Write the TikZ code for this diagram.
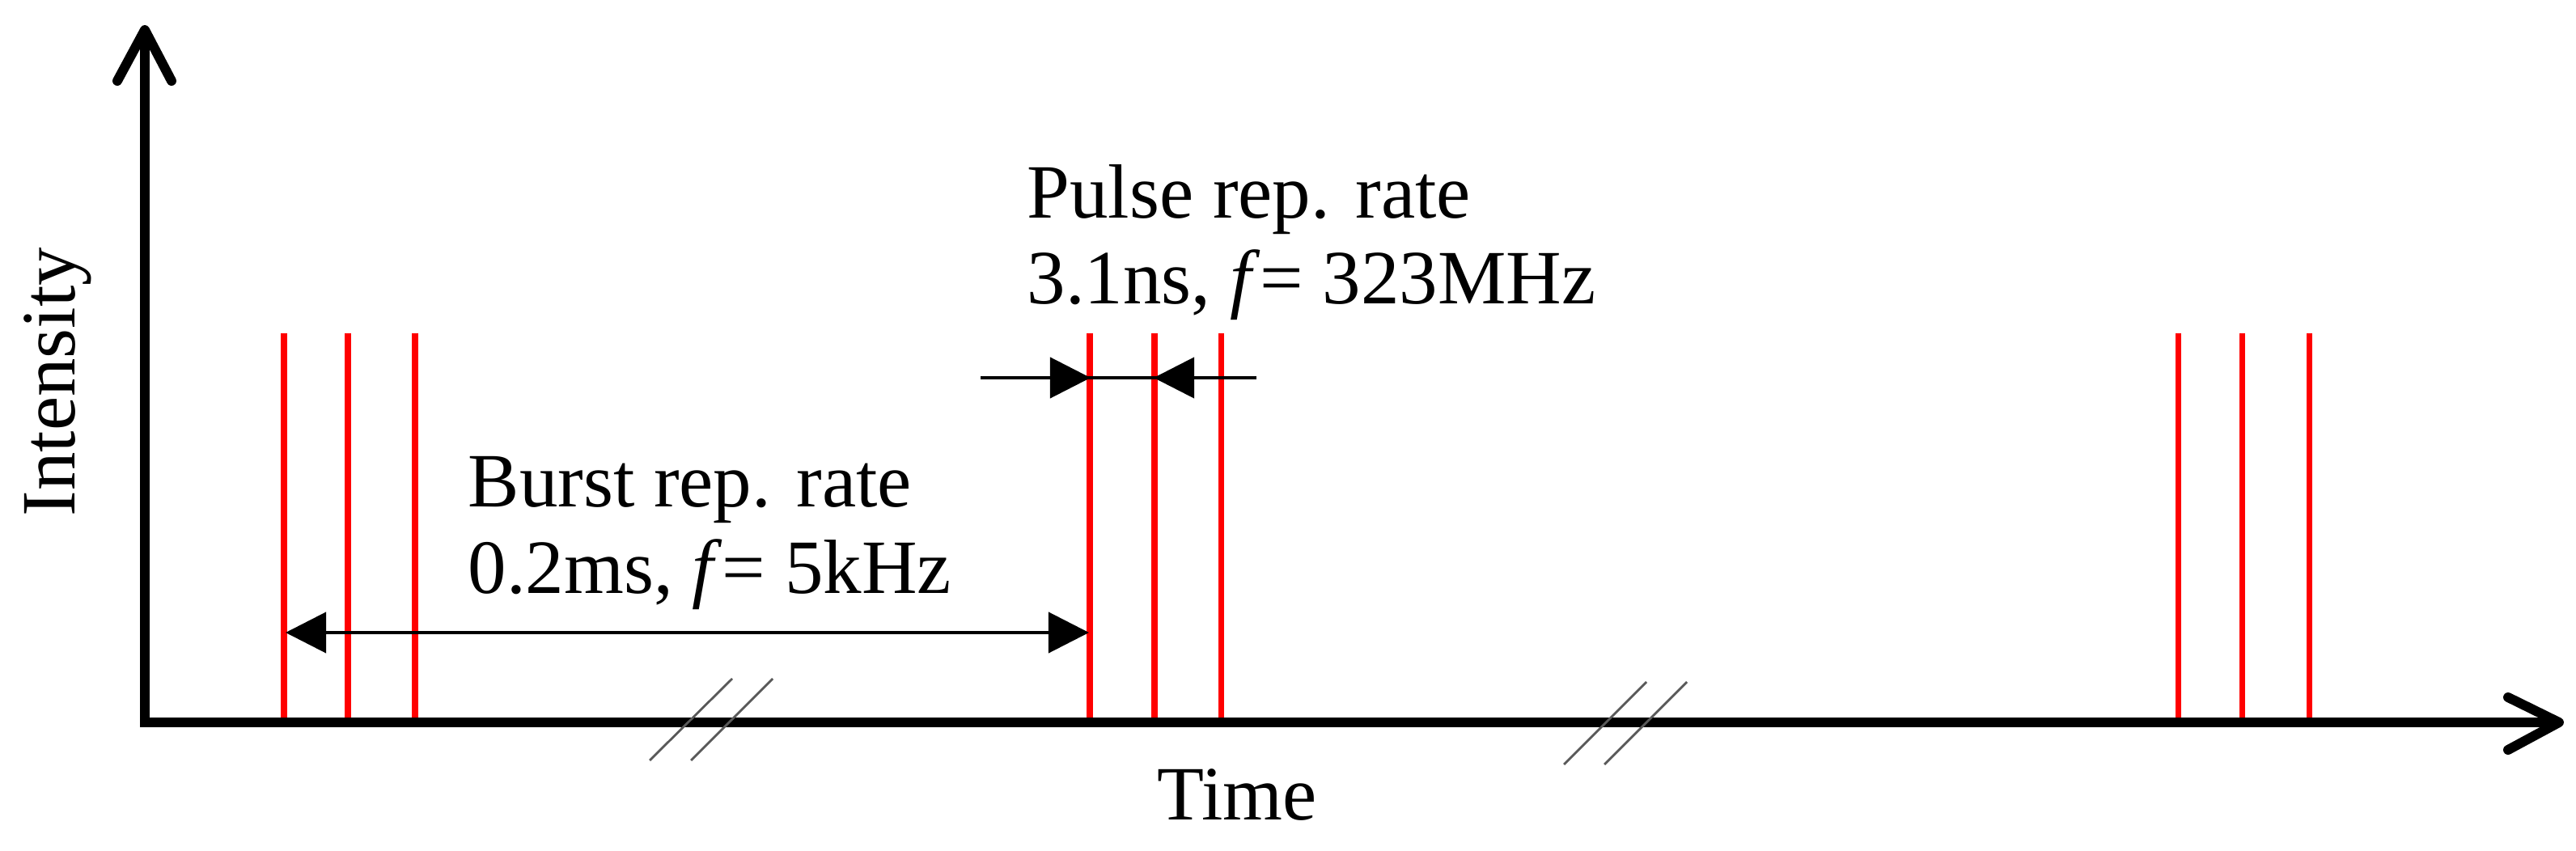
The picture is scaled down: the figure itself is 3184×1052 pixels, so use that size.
\documentclass[tikz,border=0pt]{standalone}
\usepackage{fontspec}
\setmainfont{Liberation Serif}
\usetikzlibrary{arrows.meta}
\begin{document}
\begin{tikzpicture}[x=0.01cm,y=-0.01cm,
  axisline/.style={line width=3.4pt,black,line join=miter},
  barb/.style={line width=3.4pt,black,line cap=round,line join=round},
  pulseline/.style={line width=2pt,red},
  dimline/.style={line width=1.15pt,black},
  dimtip/.style={line width=1.15pt,black,-{Triangle[length=0.5cm,width=0.5cm]}},
  breakmark/.style={line width=0.8pt,black!65},
  lbl/.style={inner sep=0pt,font=\fontsize{27}{30.2}\selectfont,align=left}]
\useasboundingbox (0,0) rectangle (3184,1052);
% coordinates
\coordinate (O) at (179,893);
\coordinate (ytip) at (179,37);
\coordinate (xtip) at (3163,893);
% pulses
\foreach \n/\x in {a1/351,a2/430,a3/513,b1/1347,b2/1427,b3/1509,c1/2692,c2/2771,c3/2854}{
  \coordinate (\n top) at (\x,412);
  \coordinate (\n bot) at (\x,893);
  \draw[pulseline] (\n top) -- (\n bot);
}
% axes
\draw[axisline] (xtip) -- (O) -- (ytip);
\draw[barb] (145,100) -- (ytip) -- (212,100);
\draw[barb] (3100,862) -- (xtip) -- (3100,927);
% break marks
\coordinate (k1a) at (803,940); \coordinate (k1b) at (905,839);
\coordinate (k2a) at (854,940); \coordinate (k2b) at (955,839);
\coordinate (k3a) at (1933,945); \coordinate (k3b) at (2035,843);
\coordinate (k4a) at (1983,945); \coordinate (k4b) at (2085,843);
\draw[breakmark] (k1a) -- (k1b);
\draw[breakmark] (k2a) -- (k2b);
\draw[breakmark] (k3a) -- (k3b);
\draw[breakmark] (k4a) -- (k4b);
% burst dimension
\coordinate (bl) at (353,782);
\coordinate (br) at (1346,782);
\draw[dimline,{Triangle[length=0.5cm,width=0.5cm]}-{Triangle[length=0.5cm,width=0.5cm]}] (bl) -- (br);
% pulse dimension
\coordinate (pl) at (1212,467);
\coordinate (pr) at (1553,467);
\coordinate (p1) at (1348,467);
\coordinate (p2) at (1426,467);
\draw[dimline] (pl) -- (pr);
\draw[dimtip] (pl) -- (p1);
\draw[dimtip] (pr) -- (p2);
% labels (base anchor = baseline of last line)
\node[lbl,anchor=base west] (pulse) at (1269,376) {Pulse rep. rate\\3.1ns, \textit{f}= 323MHz};
\node[lbl,anchor=base west] (burst) at (578,733) {Burst rep. rate\\0.2ms, \textit{f}= 5kHz};
\node[lbl,anchor=base west] (time) at (1430,1013) {Time};
\node[lbl,anchor=base,rotate=90] (intensity) at (92,472) {Intensity};
\end{tikzpicture}
\end{document}
